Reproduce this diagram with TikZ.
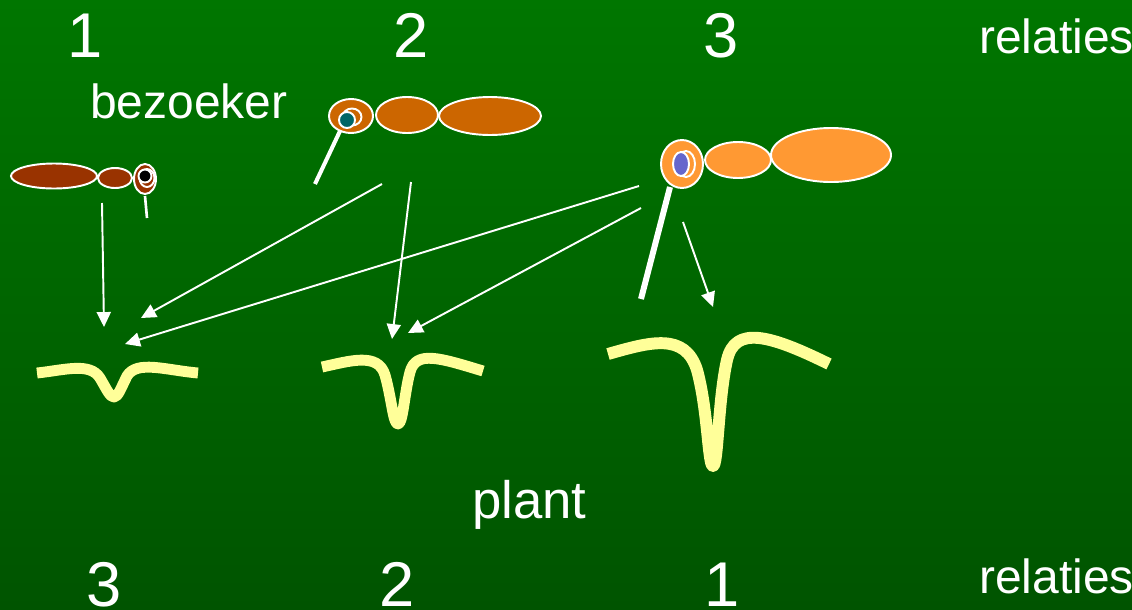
\documentclass[tikz,border=0pt]{standalone}
\usepackage{fontspec}
\setmainfont{Liberation Sans}
\usetikzlibrary{arrows.meta}

\definecolor{bgtop}{RGB}{0,118,0}
\definecolor{bgbot}{RGB}{0,84,0}
\definecolor{bruin}{RGB}{153,51,0}
\definecolor{oranje}{RGB}{204,102,0}
\definecolor{lichtoranje}{RGB}{255,153,51}
\definecolor{oogblauw}{RGB}{102,102,204}
\definecolor{oogteal}{RGB}{0,102,102}
\definecolor{bloem}{RGB}{255,255,153}

\tikzset{
  num/.style={font=\fontsize{36}{40}\selectfont,text=white,anchor=base},
  woord/.style={font=\fontsize{27.3}{30}\selectfont,text=white,anchor=base west},
  lijf/.style={draw=white,line width=1.1pt},
  pijl/.style={-{Triangle[length=8.5pt,width=8pt]},white,line width=1.1pt},
  kronkel/.style={bloem,line join=round}
}

\begin{document}
\begin{tikzpicture}[x=0.02cm,y=-0.02cm]
  \shade[top color=bgtop,bottom color=bgbot] (0,0) rectangle (1132,609);
  \useasboundingbox (0,0) rectangle (1132,609);

  \node[num] (n1) at (85,57) {1};
  \node[num] (n2) at (411,57) {2};
  \node[num] (n3) at (721,57) {3};
  \node[woord] (rel1) at (973,53) {relaties};
  \node[woord] (bez) at (84,118) {bezoeker};
  \node[woord,font=\fontsize{30}{34}\selectfont] (plant) at (466,518) {plant};
  \node[num] (m3) at (104,606) {3};
  \node[num] (m2) at (397,606) {2};
  \node[num] (m1) at (722,606) {1};
  \node[woord] (rel2) at (973,593) {relaties};

  % bezoeker 1
  \begin{scope}
    \filldraw[lijf,fill=bruin] (54,176) ellipse [x radius=43,y radius=12.5];
    \filldraw[lijf,fill=bruin] (115,178) ellipse [x radius=17,y radius=10];
    \filldraw[lijf,fill=bruin] (145,179) ellipse [x radius=11,y radius=15];
    \draw[white,line width=1.1pt] (147,178) ellipse [x radius=7.5,y radius=9];
    \filldraw[lijf,fill=black] (145,176) circle [radius=6.5];
    \draw[white,line width=1.5pt] (145,196) -- (147,218);
  \end{scope}

  % bezoeker 2
  \begin{scope}
    \filldraw[lijf,fill=oranje] (490,116) ellipse [x radius=51,y radius=19];
    \filldraw[lijf,fill=oranje] (407,115) ellipse [x radius=31,y radius=18];
    \filldraw[lijf,fill=oranje] (351,116) ellipse [x radius=22,y radius=17];
    \draw[white,line width=1.1pt] (352,117) ellipse [x radius=9.5,y radius=8.5];
    \filldraw[lijf,fill=oogteal] (347,120) circle [radius=8];
    \draw[white,line width=2.3pt] (340,131) -- (315,184);
  \end{scope}

  % bezoeker 3
  \begin{scope}
    \filldraw[lijf,fill=lichtoranje] (831,155) ellipse [x radius=60,y radius=27];
    \filldraw[lijf,fill=lichtoranje] (738,160) ellipse [x radius=33,y radius=18];
    \filldraw[lijf,fill=lichtoranje] (682,164) ellipse [x radius=21,y radius=24];
    \draw[white,line width=1.1pt] (686,164) ellipse [x radius=9,y radius=13];
    \filldraw[lijf,fill=oogblauw] (681,164) ellipse [x radius=8,y radius=12];
    \draw[white,line width=3.4pt] (670,187) -- (641,299);
  \end{scope}

  % bloemen
  \draw[kronkel,line width=6.2pt] (37,373) .. controls (65,370) and (90,362) .. (100,378)
    .. controls (107,390) and (110,397) .. (114,397) .. controls (118,397) and (121,388) .. (127,376)
    .. controls (137,360) and (165,370) .. (198,373);
  \draw[kronkel,line width=6.2pt] (322,367) .. controls (350,361) and (378,352) .. (385,375)
    .. controls (392,400) and (393,424) .. (398,424) .. controls (403,424) and (404,395) .. (410,372)
    .. controls (416,350) and (440,358) .. (483,371);
  \draw[kronkel,line width=6.8pt] (608,354) .. controls (650,342) and (685,332) .. (697,370)
    .. controls (708,410) and (708,466) .. (713,466) .. controls (718,466) and (718,400) .. (727,360)
    .. controls (735,325) and (770,335) .. (829,364);

  % relaties
  \coordinate (b1) at (102,203);
  \coordinate (b2a) at (382,184);
  \coordinate (b2b) at (411,182);
  \coordinate (b3a) at (639,186);
  \coordinate (b3b) at (641,208);
  \coordinate (b3c) at (683,222);
  \coordinate (p1a) at (104,327);
  \coordinate (p1b) at (141,318);
  \coordinate (p1c) at (125,344);
  \coordinate (p2a) at (392,339);
  \coordinate (p2b) at (408,333);
  \coordinate (p3) at (713,307);
  \draw[pijl] (b1) -- (p1a);
  \draw[pijl] (b2a) -- (p1b);
  \draw[pijl] (b2b) -- (p2a);
  \draw[pijl] (b3a) -- (p1c);
  \draw[pijl] (b3b) -- (p2b);
  \draw[pijl] (b3c) -- (p3);
\end{tikzpicture}
\end{document}
